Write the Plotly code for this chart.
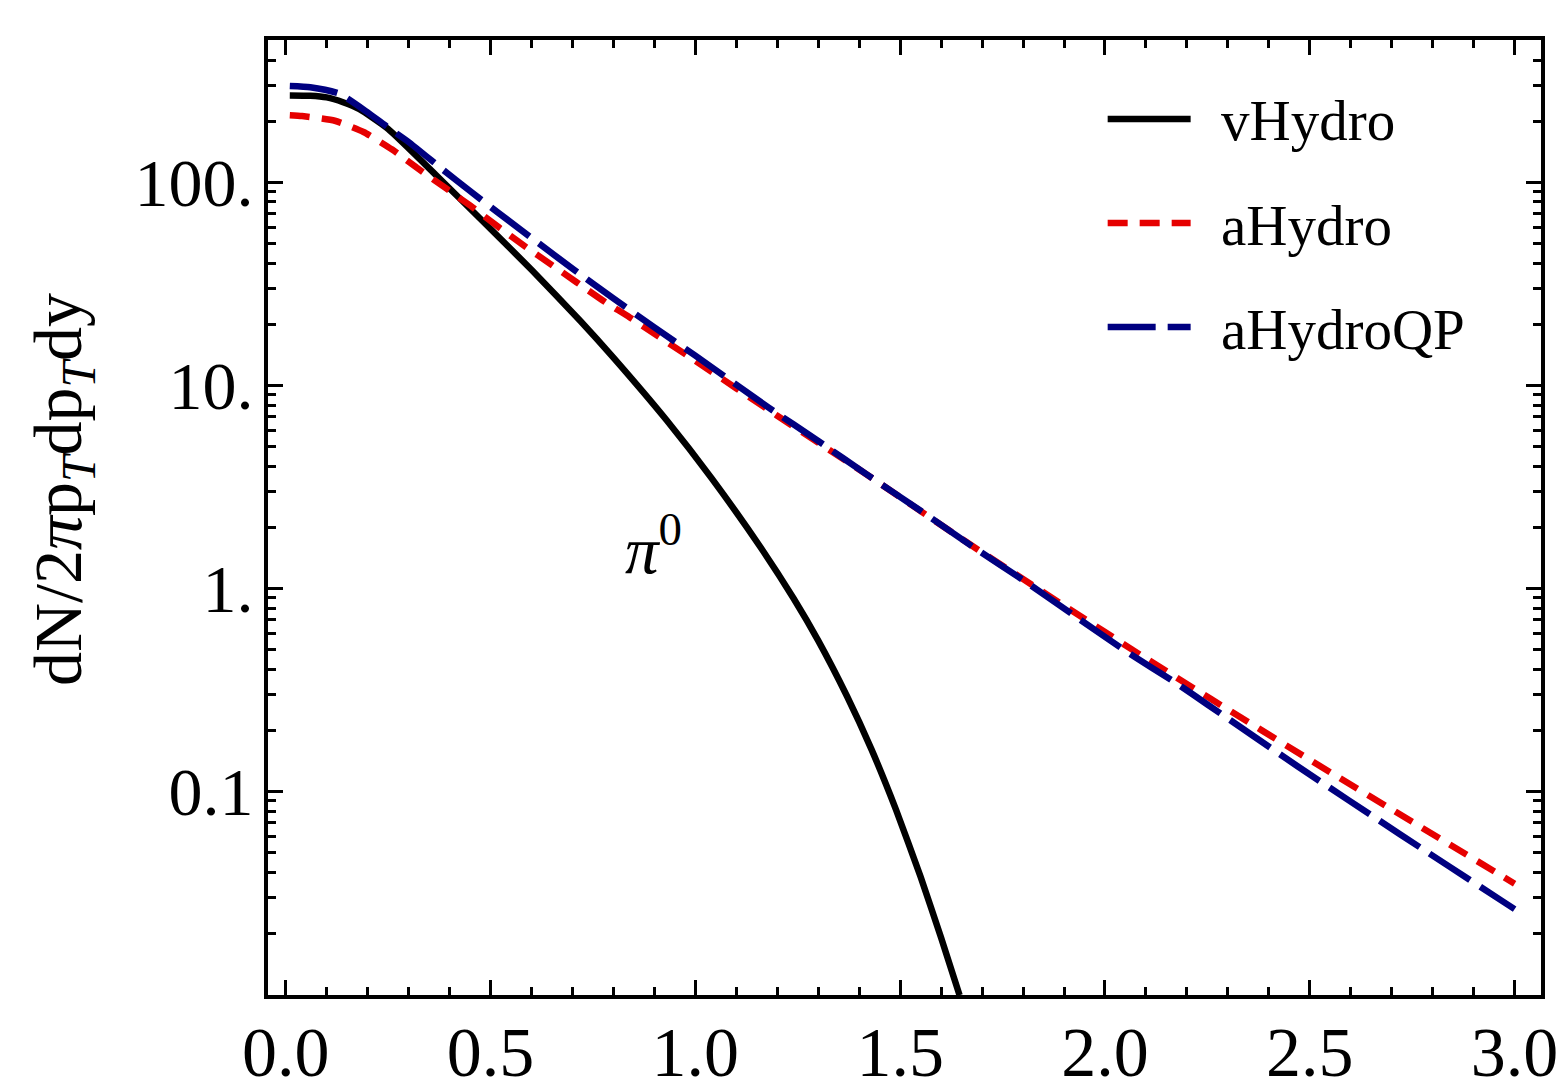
import plotly.graph_objects as go

# ---- data ----
pt_vhydro = [0.01, 0.06, 0.10, 0.14, 0.18, 0.25, 0.37, 0.48, 0.60, 0.72, 0.80, 0.93,
             1.04, 1.16, 1.24, 1.30, 1.37, 1.43, 1.49, 1.55, 1.60, 1.645]
y_vhydro = [268, 267, 262, 248, 229, 183, 107, 64.7, 37.1, 20.7, 13.7, 6.73,
            3.48, 1.585, 0.891, 0.553, 0.295, 0.161, 0.0811, 0.0379, 0.0190, 0.00991]

pt_ahydro = [0.01, 0.04, 0.12, 0.19, 0.26, 0.32, 0.39, 0.45, 0.52, 0.58, 0.65, 0.71,
             0.78, 0.84, 1.00, 1.20, 1.40, 1.66, 1.90, 2.10, 2.26, 2.50, 2.75, 3.00]
y_ahydro = [214, 212, 201, 177, 145, 118, 93.8, 76.9, 60.1, 49.0, 39.1, 32.2,
            25.7, 21.6, 13.2, 7.08, 3.85, 1.70, 0.822, 0.452, 0.284, 0.143, 0.0708, 0.0351]

pt_ahydroqp = [0.01, 0.06, 0.13, 0.20, 0.25, 0.30, 0.38, 0.45, 0.52, 0.61, 0.70, 0.80,
               0.90, 1.00, 1.18, 1.30, 1.42, 1.55, 1.68, 1.80, 1.92, 2.05, 2.18, 2.25,
               2.47, 2.72, 2.97, 3.00]
y_ahydroqp = [298, 294, 274, 221, 186, 158, 117, 90.6, 70.5, 51.4, 37.6, 26.8,
              19.3, 14.0, 7.74, 5.32, 3.62, 2.41, 1.59, 1.10, 0.746, 0.492, 0.335, 0.268,
              0.133, 0.0615, 0.0288, 0.0263]

x_tickvals = [0.0, 0.5, 1.0, 1.5, 2.0, 2.5, 3.0]
x_ticktext = ["0.0", "0.5", "1.0", "1.5", "2.0", "2.5", "3.0"]
y_tickvals = [0.1, 1, 10, 100]
y_ticktext = ["0.1", "1.", "10.", "100."]
y_minor = [k * 10 ** e for e in (-2, -1, 0, 1, 2) for k in range(2, 10) if k * 10 ** e < 450]

series_names = ["vHydro", "aHydro", "aHydroQP"]
series_colors = ["#000000", "#E60000", "#000080"]
series_dash = ["solid", "20px,12px", "48px,12px"]

FONT = "Liberation Serif, Times New Roman, serif"
LW = 6.5

fig = go.Figure()
for name, xs, ys, col, dsh in zip(series_names,
                                  [pt_vhydro, pt_ahydro, pt_ahydroqp],
                                  [y_vhydro, y_ahydro, y_ahydroqp],
                                  series_colors, series_dash):
    fig.add_trace(go.Scatter(x=xs, y=ys, mode="lines", name=name,
                             line=dict(color=col, width=LW, dash=dsh,
                                       shape="spline", smoothing=0.5),
                             showlegend=False))

# ---- page geometry (page body has an 8px margin) ----
OFF = 8
W, H = 1566 - OFF, 1091 - OFF
PL, PR, PT, PB = 268, 1541.5, 40, 995          # plot box in window pixels
L, R, T, B = PL - OFF, W - (PR - OFF), PT - OFF, H - (PB - OFF)
pw, ph = PR - PL, PB - PT
def px_x(px):
    return (px - PL) / pw
def px_y(py):
    return (PB - py) / ph

# manual legend (long sample lines, like the reference)
leg_rows = [119, 223, 327]
for name, col, dsh, row in zip(series_names, series_colors, series_dash, leg_rows):
    fig.add_shape(type="line", xref="paper", yref="paper",
                  x0=px_x(1108), x1=px_x(1191), y0=px_y(row), y1=px_y(row),
                  line=dict(color=col, width=LW, dash=dsh))
    fig.add_annotation(xref="paper", yref="paper", x=px_x(1219), y=px_y(row + 2),
                       text=name, showarrow=False, xanchor="left", yanchor="middle",
                       font=dict(family=FONT, size=57, color="black"))

# pi^0 label (y in log10 units on the log axis)
fig.add_annotation(x=0.8975, y=0.213, xref="x", yref="y", text="<i>π</i><sup>0</sup>",
                   showarrow=False, xanchor="center", yanchor="middle",
                   font=dict(family=FONT, size=67, color="black"))

# y-axis title
fig.add_annotation(xref="paper", yref="paper", x=px_x(62), y=px_y(490),
                   text="dN/2<i>π</i>p<sub><i>T</i></sub>dp<sub><i>T</i></sub>dy",
                   textangle=-90, showarrow=False, xanchor="center", yanchor="middle",
                   font=dict(family=FONT, size=68, color="black"))

fig.update_layout(
    width=W, height=H,
    margin=dict(l=L, r=R, t=T, b=B, pad=0, autoexpand=False),
    paper_bgcolor="white", plot_bgcolor="white",
    font=dict(family=FONT, color="black"),
    xaxis=dict(range=[-0.0432, 3.0644], showgrid=False, zeroline=False, automargin=False,
               showline=True, linewidth=4, linecolor="black", mirror="ticks",
               ticks="inside", ticklen=15, tickwidth=3, tickcolor="black",
               tickmode="array", tickvals=x_tickvals, ticktext=x_ticktext,
               ticklabelstandoff=-7,
               tickfont=dict(family=FONT, size=70, color="black"),
               minor=dict(ticks="inside", ticklen=8, tickwidth=3, tickcolor="black",
                          dtick=0.1, tick0=0, showgrid=False)),
    yaxis=dict(type="log", range=[-2.003, 2.701], showgrid=False, zeroline=False,
               automargin=False,
               showline=True, linewidth=4, linecolor="black", mirror="ticks",
               ticks="inside", ticklen=15, tickwidth=3, tickcolor="black",
               tickmode="array", tickvals=y_tickvals, ticktext=y_ticktext,
               ticklabelstandoff=-3,
               tickfont=dict(family=FONT, size=68, color="black"),
               minor=dict(ticks="inside", ticklen=8, tickwidth=3, tickcolor="black",
                          tickmode="array", tickvals=y_minor, showgrid=False)),
)

fig.write_html("out.html")
